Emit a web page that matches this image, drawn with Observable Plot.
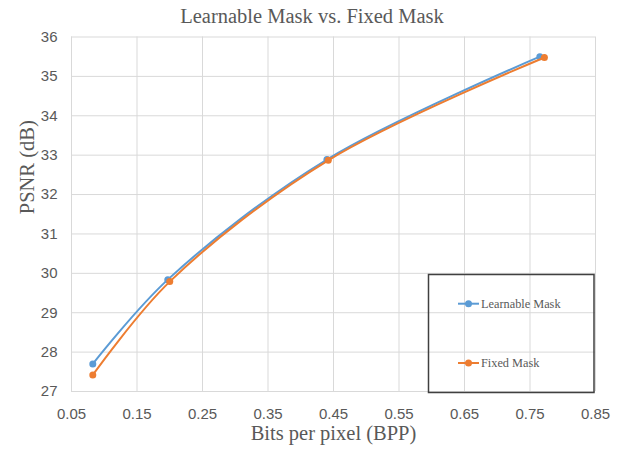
<!DOCTYPE html>
<html>
<head>
<meta charset="utf-8">
<script src="https://cdn.jsdelivr.net/npm/d3@7"></script>
<script src="https://cdn.jsdelivr.net/npm/@observablehq/plot@0.6"></script>
<style>
  body { margin: 0; background: #fff; }
  #wrap { position: relative; width: 620px; height: 449px; overflow: hidden; background: #fff; }
  #title { height: 28px; line-height: 32px; text-align: center; padding-left: 4px; box-sizing: border-box;
           font-family: "Liberation Serif", "Times New Roman", serif; font-size: 20.5px; color: #595959; white-space: nowrap; }
  #legend { position: absolute; left: 0; top: 0; pointer-events: none; }
</style>
</head>
<body>
<div id="wrap">
  <div id="title">Learnable Mask vs. Fixed Mask</div>
</div>
<script>
// ---- data ----
const seriesNames = ["Learnable Mask", "Fixed Mask"];
const seriesColors = ["#5B9BD5", "#ED7D31"];
const learnBpp  = [0.0825, 0.197, 0.440, 0.765];
const learnPsnr = [27.70, 29.84, 32.89, 35.50];
const fixedBpp  = [0.0825, 0.200, 0.442, 0.772];
const fixedPsnr = [27.42, 29.79, 32.87, 35.48];
const xTicks = [0.05, 0.15, 0.25, 0.35, 0.45, 0.55, 0.65, 0.75, 0.85];
const yTicks = [27, 28, 29, 30, 31, 32, 33, 34, 35, 36];
const titleText = "Learnable Mask vs. Fixed Mask";
const xLabel = "Bits per pixel (BPP)";
const yLabel = "PSNR (dB)";

const learnData = learnBpp.map((x, i) => ({series: seriesNames[0], bpp: x, psnr: learnPsnr[i]}));
const fixedData = fixedBpp.map((x, i) => ({series: seriesNames[1], bpp: x, psnr: fixedPsnr[i]}));

const serif = '"Liberation Serif", "Times New Roman", serif';
const narrow = '"Liberation Sans Narrow", "Arial Narrow", "Liberation Sans", sans-serif';
const gridColor = "#d9d9d9";
const textColor = "#595959";

const chart = Plot.plot({
  width: 620,
  height: 421,
  marginTop: 8.5,
  marginBottom: 58,
  marginLeft: 71,
  marginRight: 25,
  style: { fontFamily: narrow, fontSize: "15px", color: textColor, background: "transparent", overflow: "visible" },
  x: { domain: [0.05, 0.85] },
  y: { domain: [27, 36] },
  color: { domain: seriesNames, range: seriesColors },
  marks: [
    Plot.gridX(xTicks, { stroke: gridColor, strokeOpacity: 1, strokeWidth: 1 }),
    Plot.gridY(yTicks, { stroke: gridColor, strokeOpacity: 1, strokeWidth: 1 }),
    Plot.axisX(xTicks, { tickSize: 0, tickPadding: 17, tickFormat: d3.format(".2f"), label: null, fill: textColor, fontSize: 15 }),
    Plot.axisY(yTicks, { tickSize: 0, tickPadding: 14, tickFormat: d3.format("d"), label: null, fill: textColor, fontSize: 15 }),
    Plot.line(learnData, { x: "bpp", y: "psnr", stroke: "series", curve: "catmull-rom", strokeWidth: 2 }),
    Plot.dot(learnData, { x: "bpp", y: "psnr", fill: "series", r: 3.5 }),
    Plot.line(fixedData, { x: "bpp", y: "psnr", stroke: "series", curve: "catmull-rom", strokeWidth: 2 }),
    Plot.dot(fixedData, { x: "bpp", y: "psnr", fill: "series", r: 3.5 }),
    Plot.text([xLabel], { text: d => d, frameAnchor: "bottom", dy: 48, fontSize: 20.5, fontFamily: serif, fill: textColor }),
    Plot.text([yLabel], { text: d => d, frameAnchor: "left", dx: -44, rotate: -90, fontSize: 20.5, fontFamily: serif, fill: textColor })
  ]
});
document.getElementById("title").textContent = titleText;
document.getElementById("wrap").appendChild(chart);

// ---- legend (overlay) ----
const leg = d3.select("#wrap").append("svg").attr("id", "legend").attr("width", 620).attr("height", 449);
leg.append("rect").attr("x", 428.5).attr("y", 274.5).attr("width", 165.5).attr("height", 118)
  .attr("fill", "none").attr("stroke", "#404040").attr("stroke-width", 1.5);
const rowY = [303.7, 363];
seriesNames.forEach((name, i) => {
  const g = leg.append("g").attr("transform", `translate(0,${rowY[i]})`);
  g.append("line").attr("x1", 458).attr("x2", 479).attr("y1", 0).attr("y2", 0)
    .attr("stroke", seriesColors[i]).attr("stroke-width", 2);
  g.append("circle").attr("cx", 468.5).attr("cy", 0).attr("r", 3.5).attr("fill", seriesColors[i]);
  g.append("text").attr("x", 481).attr("y", 0).attr("dy", "0.33em")
    .attr("font-family", serif).attr("font-size", 12.3).attr("fill", textColor).text(name);
});
</script>
</body>
</html>
